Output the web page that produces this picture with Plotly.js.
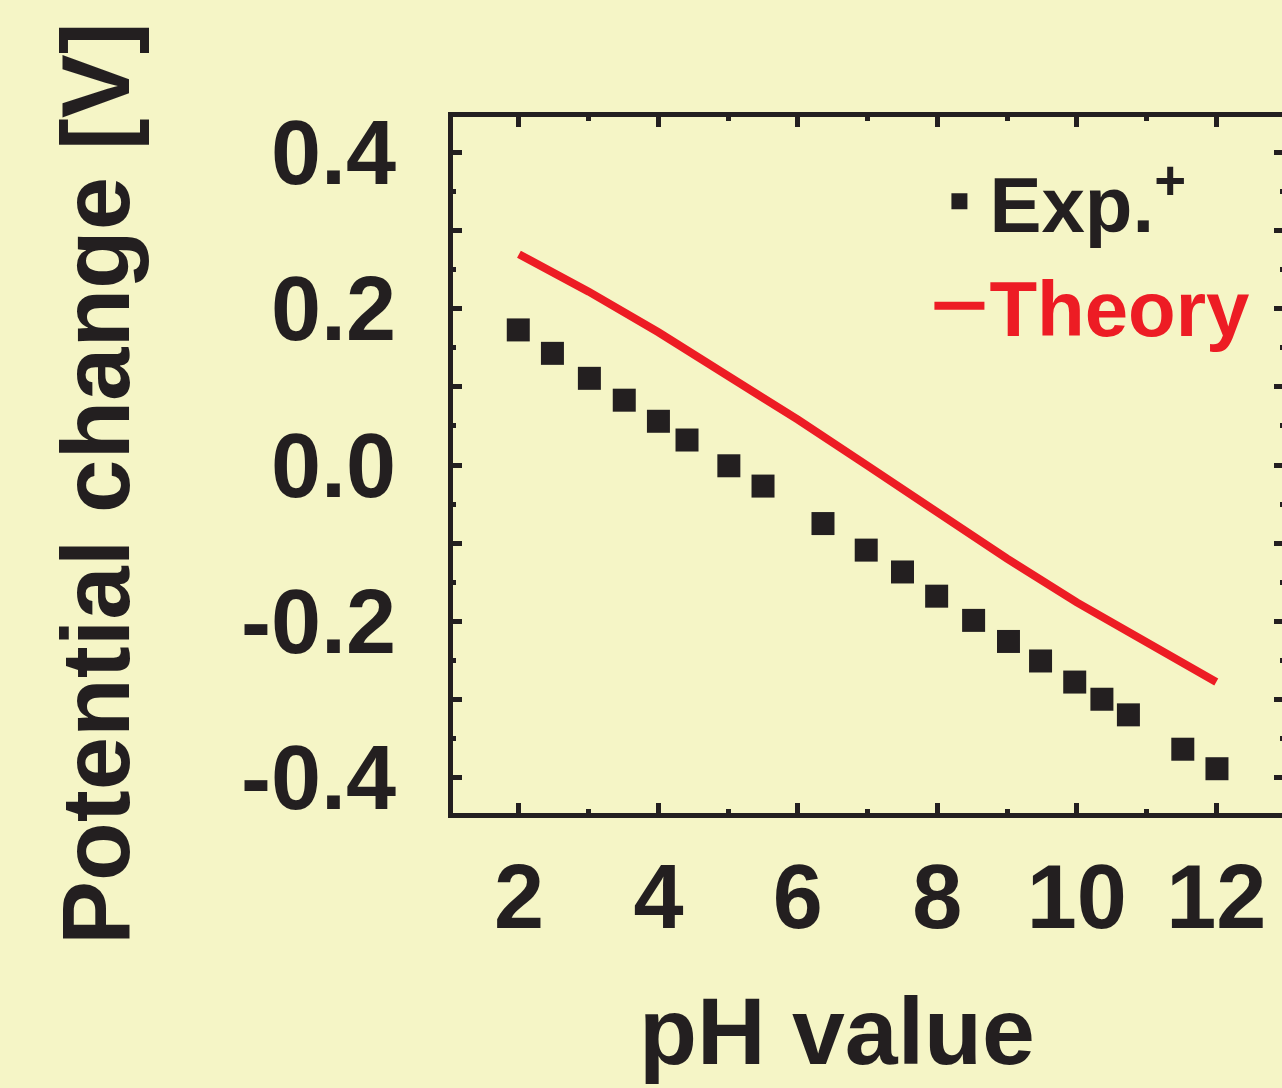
<!DOCTYPE html>
<html><head><meta charset="utf-8">
<script src="https://cdn.plot.ly/plotly-3.0.1.min.js"></script>
<style>html,body{margin:0;padding:0;overflow:hidden;background:#F5F5C6;} #chart{width:1290px;height:1088px;}</style>
</head><body><div id="chart"></div>
<script>
// Experimental data (pH, potential change in V)
const expPH = [1.99, 2.48, 3.01, 3.51, 4.00, 4.41, 5.01, 5.50, 6.36, 6.98, 7.50, 7.99, 8.52, 9.02, 9.48, 9.97, 10.36, 10.74, 11.52, 12.01];
const expV  = [0.173, 0.143, 0.111, 0.083, 0.056, 0.032, -0.001, -0.027, -0.075, -0.109, -0.137, -0.168, -0.199, -0.226, -0.251, -0.278, -0.300, -0.320, -0.364, -0.389];
// Theory curve
const theoryPH = [2, 3, 4, 5, 6, 7, 8, 9, 10, 11, 12];
const theoryV  = [0.270, 0.222, 0.170, 0.115, 0.058, -0.001, -0.062, -0.120, -0.176, -0.228, -0.278];
// Ticks
const xTickVals = [2, 4, 6, 8, 10, 12];
const xTickText = ['2', '4', '6', '8', '10', '12'];
const xMinorVals = [3, 5, 7, 9, 11];
const yTickVals = [-0.4, -0.3, -0.2, -0.1, 0, 0.1, 0.2, 0.3, 0.4];
const yTickText = ['-0.4', '', '-0.2', '', '0.0', '', '0.2', '', '0.4'];
const yMinorVals = [-0.35, -0.25, -0.15, -0.05, 0.05, 0.15, 0.25, 0.35];
const xTitle = 'pH value';
const yTitle = 'Potential change [V]';
const expName = 'Exp.<sup>+</sup>';
const theoryName = '<span style="color:#ED1C24">Theory</span>';

const BLACK = '#231F20', RED = '#ED1C24', BG = '#F5F5C6';
const FONT = 'Liberation Sans, Arial, Helvetica, sans-serif';

const traces = [
  {x: expPH, y: expV, name: expName, type: 'scatter', mode: 'markers',
   marker: {symbol: 'square', size: 23, color: BLACK}},
  {x: theoryPH, y: theoryV, name: theoryName, type: 'scatter', mode: 'lines',
   line: {color: RED, width: 8}}
];

const axisCommon = {
  showline: true, linewidth: 5, linecolor: BLACK, mirror: 'ticks',
  ticks: 'inside', tickwidth: 5, tickcolor: BLACK, showgrid: false, zeroline: false,
  tickmode: 'array', tickfont: {family: FONT, size: 90, color: BLACK, weight: 'bold'}
};

const layout = {
  width: 1290, height: 1088,
  margin: {l: 453, r: 7, t: 117, b: 275},
  paper_bgcolor: BG, plot_bgcolor: BG,
  showlegend: true,
  legend: {x: 0.574, xanchor: 'left', y: 0.961, yanchor: 'top', bgcolor: 'rgba(0,0,0,0)',
           itemwidth: 50, font: {family: FONT, size: 78, color: BLACK, weight: 'bold'}},
  xaxis: Object.assign({}, axisCommon, {range: [1.054, 12.957], tickvals: xTickVals, ticktext: xTickText,
    ticklen: 10, ticklabelstandoff: 2,
    minor: {tickmode: 'array', tickvals: xMinorVals, ticks: 'inside', ticklen: 4, tickwidth: 5, tickcolor: BLACK, showgrid: false}}),
  yaxis: Object.assign({}, axisCommon, {range: [-0.4457, 0.4457], tickvals: yTickVals, ticktext: yTickText,
    ticklen: 9, ticklabelstandoff: 34,
    minor: {tickmode: 'array', tickvals: yMinorVals, ticks: 'inside', ticklen: 3, tickwidth: 5, tickcolor: BLACK, showgrid: false}}),
  annotations: [
    {text: yTitle, xref: 'paper', yref: 'paper', x: (95 - 453) / 830, y: (813 - 484) / 696,
     xanchor: 'center', yanchor: 'middle', textangle: -90, showarrow: false,
     font: {family: FONT, size: 96, color: BLACK, weight: 'bold'}},
    {text: xTitle, xref: 'paper', yref: 'paper', x: (837 - 453) / 830, y: (813 - 1031) / 696,
     xanchor: 'center', yanchor: 'middle', showarrow: false,
     font: {family: FONT, size: 95, color: BLACK, weight: 'bold'}}
  ]
};

Plotly.newPlot('chart', traces, layout, {displayModeBar: false, staticPlot: true});
</script>
</body></html>
